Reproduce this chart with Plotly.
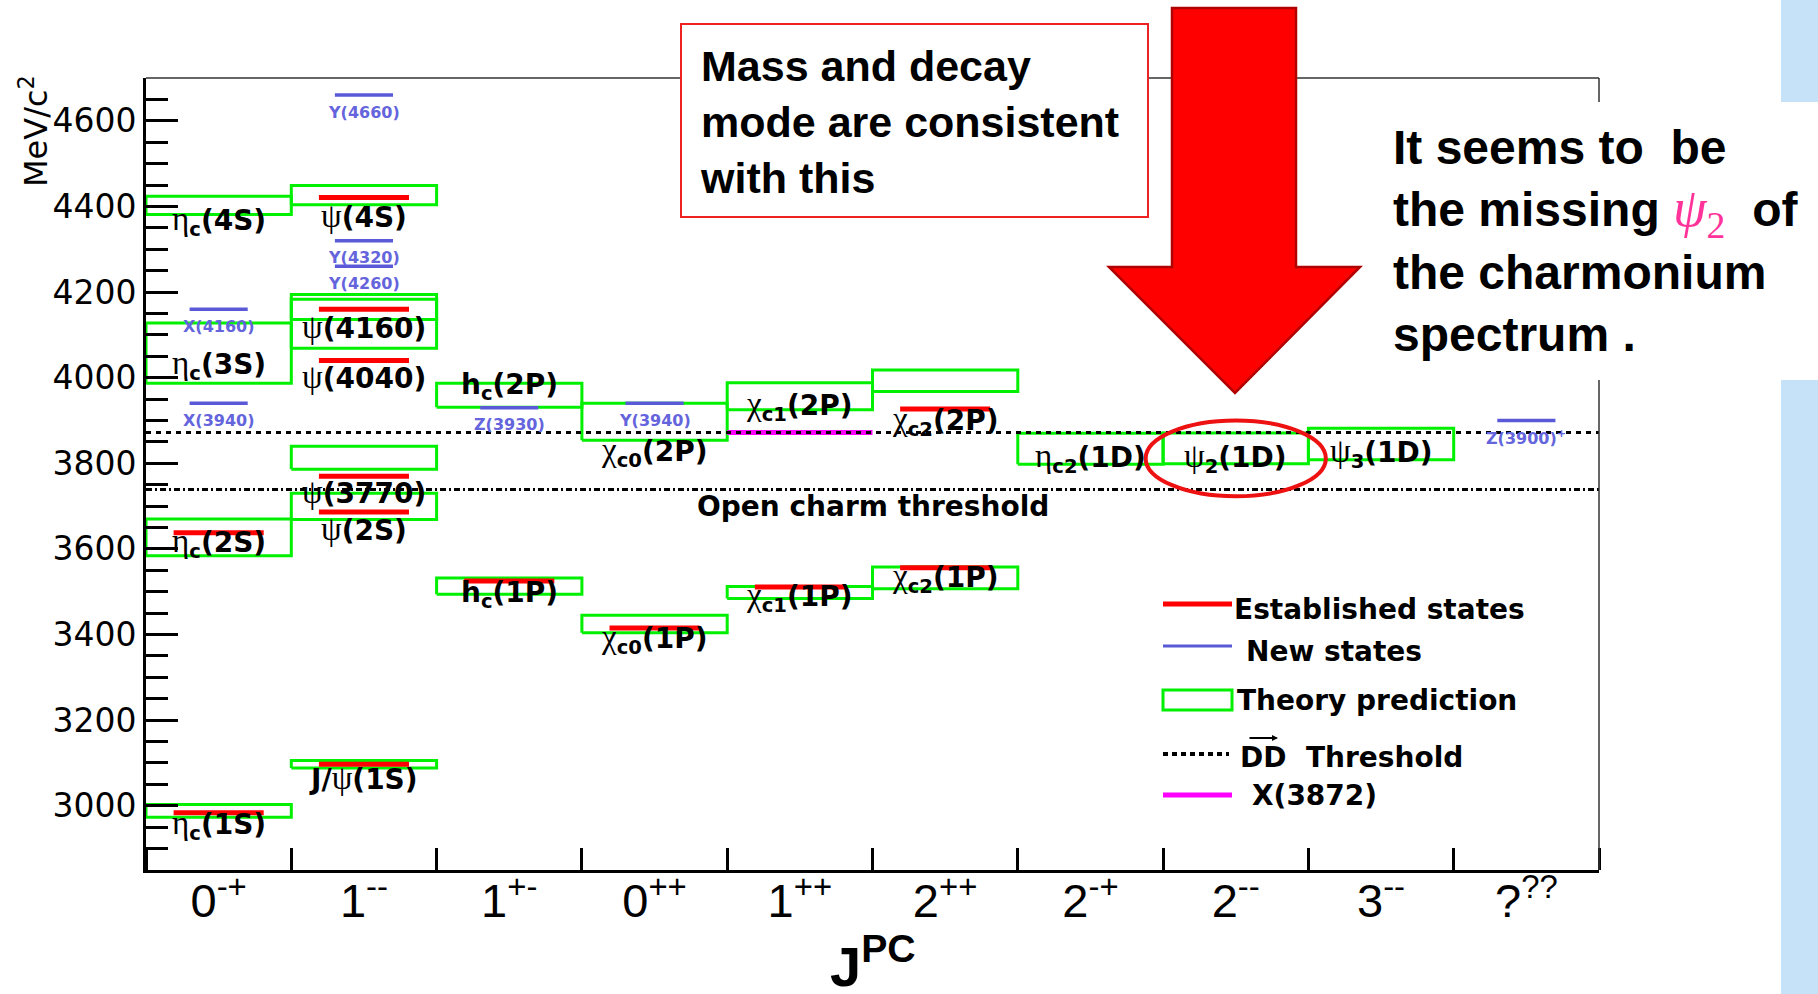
import plotly.graph_objects as go

# ---------------- data ----------------
# J^PC columns along the x axis
jpc_labels = ["0<sup>-+</sup>", "1<sup>--</sup>", "1<sup>+-</sup>", "0<sup>++</sup>", "1<sup>++</sup>",
              "2<sup>++</sup>", "2<sup>-+</sup>", "2<sup>--</sup>", "3<sup>--</sup>", "?<sup>??</sup>"]

# established charmonium states (red bars): column index, mass [MeV/c^2]
est_col = [0, 0, 1, 1, 1, 1, 1, 1, 2, 3, 4, 5, 5]
est_mass = [2984, 3638, 3097, 3686, 3770, 4040, 4160, 4421, 3525, 3415, 3511, 3556, 3927]

# new (XYZ) states (blue bars)
new_col = [0, 0, 1, 1, 1, 2, 3, 9]
new_mass = [4160, 3940, 4660, 4320, 4260, 3930, 3940, 3900]
new_name = ["X(4160)", "X(3940)", "Y(4660)", "Y(4320)", "Y(4260)", "Z(3930)", "Y(3940)",
            "Z(3900)<sup>+</sup>"]

# potential-model predictions (green boxes): column, lower and upper mass
th_col = [0, 0, 0, 0, 1, 1, 1, 1, 1, 1, 2, 2, 3, 3, 4, 4, 5, 5, 6, 7, 8]
th_lo = [2973, 3584, 3987, 4381, 3088, 3669, 3786, 4069, 4136, 4404, 3494, 3931,
         3404, 3854, 3484, 3925, 3507, 3968, 3798, 3799, 3808]
th_hi = [3003, 3670, 4128, 4424, 3106, 3730, 3840, 4183, 4194, 4449, 3532, 3987,
         3445, 3940, 3512, 3988, 3558, 4018, 3870, 3871, 3882]

# X(3872) and thresholds
x3872_col = 4
x3872_mass = 3872
dd_star_threshold = 3872
open_charm_threshold = 3739

y_ticks = [3000, 3200, 3400, 3600, 3800, 4000, 4200, 4400, 4600]

# ---------------- helpers ----------------
W, H = 1818, 994
L, R, T, B = 146, 1599, 78, 870


def fx(p):
    return (p - L) / (R - L)


def fy(p):
    return (B - p) / (B - T)


def greek(ch):
    return ("<span style='font-family:Liberation Serif;font-weight:normal;font-size:33px'>"
            + ch + "</span>")


eta, psi, chi = greek("η"), greek("ψ"), greek("χ")

state_labels = [
    (0, 4367, f"{eta}<sub>c</sub>(4S)"),
    (0, 4029, f"{eta}<sub>c</sub>(3S)"),
    (0, 3614, f"{eta}<sub>c</sub>(2S)"),
    (0, 2954, f"{eta}<sub>c</sub>(1S)"),
    (1, 4378, f"{psi}(4S)"),
    (1, 4118, f"{psi}(4160)"),
    (1, 4002, f"{psi}(4040)"),
    (1, 3734, f"{psi}(3770)"),
    (1, 3647, f"{psi}(2S)"),
    (1, 3065, f"J/{psi}(1S)"),
    (2, 3980, "h<sub>c</sub>(2P)"),
    (2, 3493, "h<sub>c</sub>(1P)"),
    (3, 3826, f"{chi}<sub>c0</sub>(2P)"),
    (3, 3390, f"{chi}<sub>c0</sub>(1P)"),
    (4, 3934, f"{chi}<sub>c1</sub>(2P)"),
    (4, 3487, f"{chi}<sub>c1</sub>(1P)"),
    (5, 3899, f"{chi}<sub>c2</sub>(2P)"),
    (5, 3531, f"{chi}<sub>c2</sub>(1P)"),
    (6, 3812, f"{eta}<sub>c2</sub>(1D)"),
    (7, 3812, f"{psi}<sub>2</sub>(1D)"),
    (8, 3823, f"{psi}<sub>3</sub>(1D)"),
]

GREEN = "#00f000"
RED = "#ff0000"
BLUE = "#5a5ad8"
MAGENTA = "#ff00ff"

fig = go.Figure()

# theory boxes
bx, by = [], []
for c, lo, hi in zip(th_col, th_lo, th_hi):
    bx += [c, c + 1, c + 1, c, c, None]
    by += [lo, lo, hi, hi, lo, None]
fig.add_trace(go.Scatter(x=bx, y=by, mode="lines", line=dict(color=GREEN, width=3),
                         hoverinfo="skip", showlegend=False))

# X(3872)
fig.add_trace(go.Scatter(x=[x3872_col, x3872_col + 1], y=[x3872_mass, x3872_mass], mode="lines",
                         line=dict(color=MAGENTA, width=5), hoverinfo="skip", showlegend=False))

# thresholds
fig.add_trace(go.Scatter(x=[0, 10], y=[dd_star_threshold] * 2, mode="lines",
                         line=dict(color="black", width=3, dash="5px,5px"),
                         hoverinfo="skip", showlegend=False))
fig.add_trace(go.Scatter(x=[0, 10], y=[open_charm_threshold] * 2, mode="lines",
                         line=dict(color="black", width=3, dash="6px,3px,2px,3px"),
                         hoverinfo="skip", showlegend=False))

# established states
rx, ry = [], []
for c, m in zip(est_col, est_mass):
    rx += [c + 0.19, c + 0.81, None]
    ry += [m, m, None]
fig.add_trace(go.Scatter(x=rx, y=ry, mode="lines", line=dict(color=RED, width=5),
                         hoverinfo="skip", showlegend=False))

# new states
nx, ny = [], []
for c, m in zip(new_col, new_mass):
    nx += [c + 0.3, c + 0.7, None]
    ny += [m, m, None]
fig.add_trace(go.Scatter(x=nx, y=ny, mode="lines", line=dict(color=BLUE, width=3.5),
                         hoverinfo="skip", showlegend=False))

annotations = []
for c, m, name in zip(new_col, new_mass, new_name):
    annotations.append(dict(x=c + 0.5, y=m, xref="x", yref="y", text=name, showarrow=False,
                            yshift=-17, xanchor="center", yanchor="middle",
                            font=dict(family="DejaVu Sans", size=16, color="#6464dc", weight="bold")))

for c, m, txt in state_labels:
    annotations.append(dict(x=c + 0.5, y=m, xref="x", yref="y", text=txt, showarrow=False,
                            xanchor="center", yanchor="middle",
                            font=dict(family="DejaVu Sans", size=28, color="black", weight="bold")))

annotations.append(dict(x=5.0, y=3698, xref="x", yref="y", text="Open charm threshold",
                        showarrow=False, xanchor="center", yanchor="middle",
                        font=dict(family="DejaVu Sans", size=28, color="black", weight="bold")))

# axis titles
annotations.append(dict(x=fx(34), y=fy(131), xref="paper", yref="paper", text="MeV/c<sup>2</sup>",
                        textangle=-90, showarrow=False, xanchor="center", yanchor="middle",
                        font=dict(family="DejaVu Sans", size=32, color="black")))
annotations.append(dict(x=0.5, y=fy(962), xref="paper", yref="paper", text="J<sup>PC</sup>",
                        showarrow=False, xanchor="center", yanchor="middle",
                        font=dict(family="Liberation Sans", size=56, color="black", weight="bold")))

shapes = []
# frame top / right
shapes.append(dict(type="line", xref="paper", yref="paper", x0=0, x1=1, y0=1, y1=1,
                   line=dict(color="#333333", width=1.5), layer="above"))
shapes.append(dict(type="line", xref="paper", yref="paper", x0=1, x1=1, y0=0, y1=1,
                   line=dict(color="#333333", width=1.5), layer="above"))

# legend
leg_x0, leg_x1 = fx(1163), fx(1232)
shapes.append(dict(type="line", xref="paper", yref="paper", x0=leg_x0, x1=leg_x1, y0=fy(604), y1=fy(604),
                   line=dict(color=RED, width=5), layer="above"))
shapes.append(dict(type="line", xref="paper", yref="paper", x0=leg_x0, x1=leg_x1, y0=fy(646), y1=fy(646),
                   line=dict(color=BLUE, width=3), layer="above"))
shapes.append(dict(type="rect", xref="paper", yref="paper", x0=leg_x0, x1=leg_x1, y0=fy(710), y1=fy(690),
                   line=dict(color=GREEN, width=3), layer="above"))
shapes.append(dict(type="line", xref="paper", yref="paper", x0=leg_x0, x1=fx(1229), y0=fy(754), y1=fy(754),
                   line=dict(color="black", width=4, dash="5px,4px"), layer="above"))
shapes.append(dict(type="line", xref="paper", yref="paper", x0=leg_x0, x1=leg_x1, y0=fy(795), y1=fy(795),
                   line=dict(color=MAGENTA, width=5), layer="above"))

leg_font = dict(family="DejaVu Sans", size=28, color="black", weight="bold")
for px_, py_, txt in [(1232, 609, "Established states"), (1244, 651, "New states"),
                      (1235, 700, "Theory prediction"), (1238, 757, "DD&nbsp; Threshold"),
                      (1250, 795, "X(3872)")]:
    annotations.append(dict(x=fx(px_), y=fy(py_), xref="paper", yref="paper", text=txt,
                            showarrow=False, xanchor="left", yanchor="middle", font=leg_font))
annotations.append(dict(x=fx(1278), y=fy(738), xref="paper", yref="paper", text="", showarrow=True,
                        ax=-30, ay=0, arrowhead=2, arrowsize=0.6, arrowwidth=2, arrowcolor="black"))

# red ellipse around psi_2(1D)
shapes.append(dict(type="circle", xref="x", yref="y", x0=6.88, x1=8.12, y0=3723, y1=3900,
                   line=dict(color="#ee1111", width=4), layer="above"))

# comment box
shapes.append(dict(type="rect", xref="paper", yref="paper", x0=fx(681), x1=fx(1148), y0=fy(217), y1=fy(24),
                   line=dict(color="#ee2222", width=2), fillcolor="white", layer="above"))
annotations.append(dict(x=fx(698), y=fy(40), xref="paper", yref="paper",
                        text="Mass and decay<br>mode are consistent<br>with this",
                        showarrow=False, xanchor="left", yanchor="top", align="left",
                        font=dict(family="Liberation Sans", size=43, color="black", weight="bold")))

# big arrow pointing at psi_2(1D)
arrow_pts = [(1172, 8), (1296, 8), (1296, 267), (1360, 267), (1235, 393), (1109, 267), (1172, 267)]
path = "M " + " L ".join(f"{fx(a):.5f},{fy(b):.5f}" for a, b in arrow_pts) + " Z"
shapes.append(dict(type="path", xref="paper", yref="paper", path=path, fillcolor="#ff0000",
                   line=dict(color="#b00000", width=2.5), layer="above"))

# side strip and text panel
shapes.append(dict(type="rect", xref="paper", yref="paper", x0=fx(1781), x1=fx(1818), y0=fy(994), y1=fy(0),
                   line=dict(width=0), fillcolor="#c6e2f8", layer="above"))
shapes.append(dict(type="rect", xref="paper", yref="paper", x0=fx(1385), x1=fx(1818), y0=fy(380), y1=fy(102),
                   line=dict(width=0), fillcolor="white", layer="above"))
annotations.append(dict(x=fx(1391), y=fy(119), xref="paper", yref="paper",
                        text="It seems to&nbsp; be<br>the missing "
                             "<span style='color:#ff3399;font-family:Liberation Serif;font-weight:normal;"
                             "font-size:54px'><i>ψ</i><sub>2</sub></span>&nbsp; of<br>the charmonium<br>"
                             "spectrum .",
                        showarrow=False, xanchor="left", yanchor="top", align="left",
                        font=dict(family="Liberation Sans", size=48, color="black", weight="bold")))

fig.update_layout(
    width=W, height=H, autosize=False,
    margin=dict(l=L, r=W - R, t=T, b=H - B, pad=0),
    paper_bgcolor="white", plot_bgcolor="white",
    showlegend=False,
    xaxis=dict(range=[0, 10], tickmode="array", tickvals=[i + 0.5 for i in range(10)],
               ticktext=jpc_labels, ticks="", showline=True, linewidth=3, linecolor="black",
               showgrid=False, zeroline=False, fixedrange=True, ticklabelstandoff=-12,
               tickfont=dict(family="Liberation Sans", size=47, color="black"),
               minor=dict(tickmode="linear", tick0=0, dtick=1, ticks="inside", ticklen=22,
                          tickwidth=3, tickcolor="black", showgrid=False)),
    yaxis=dict(range=[2850, 4700], tickmode="array", tickvals=y_ticks, ticks="inside", ticklen=32,
               tickwidth=3, tickcolor="black", showline=True, linewidth=3, linecolor="black",
               showgrid=False, zeroline=False, fixedrange=True,
               tickfont=dict(family="DejaVu Sans", size=33, color="black"),
               minor=dict(tickmode="linear", tick0=2850, dtick=50, ticks="inside", ticklen=22,
                          tickwidth=3, tickcolor="black", showgrid=False)),
    shapes=shapes,
    annotations=annotations,
)

fig.write_html("out.html")
